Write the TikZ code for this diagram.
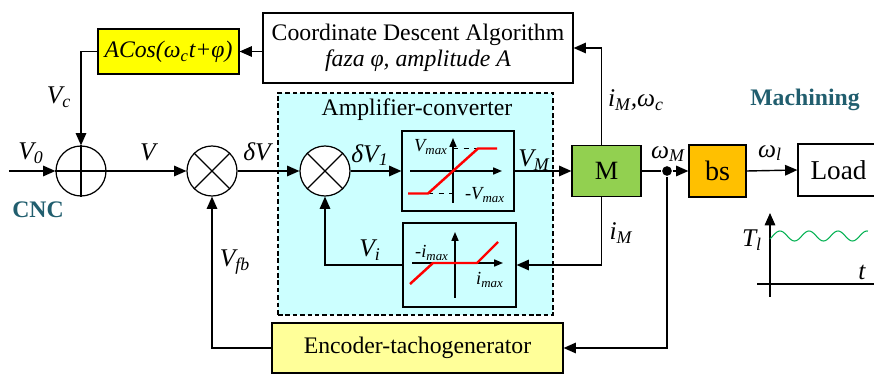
\documentclass[tikz,border=0pt]{standalone}
\usepackage{fontspec}
\setmainfont{Liberation Serif}
\usepackage{tikz}
\usetikzlibrary{arrows.meta,positioning,calc}
\definecolor{ampcyan}{HTML}{CCFFFF}
\definecolor{acosyellow}{HTML}{FFFF00}
\definecolor{encyellow}{HTML}{FFFF99}
\definecolor{mgreen}{HTML}{92D050}
\definecolor{bsorange}{HTML}{FFC000}
\definecolor{tealtext}{HTML}{215E6E}
\definecolor{wavegreen}{HTML}{00B050}
\tikzset{block/.style={draw=black,line width=0.7pt,inner sep=0pt,align=center,font=\fontsize{13.5}{14.5}\selectfont},
  sumnode/.style={draw,circle,fill=white,line width=0.7pt,minimum size=1cm,inner sep=0pt},
  sig/.style={font=\fontsize{14.5}{16}\selectfont\itshape,inner sep=0pt},
  small/.style={font=\fontsize{10.5}{12}\selectfont\itshape,inner sep=0pt},
  tealbold/.style={font=\fontsize{13.5}{15}\selectfont\bfseries,text=tealtext,inner sep=0pt},
  ax/.style={-{Triangle[length=5pt,width=4pt]},line width=0.7pt},
  curve/.style={red,line width=1.4pt}}

\begin{document}
\begin{tikzpicture}[>={Triangle[length=7pt,width=6pt]}, line width=0.8pt]
\useasboundingbox (0,0) rectangle (17.48,-7.48);

\node[draw,dashed,dash pattern=on 2.6pt off 1.6pt,line width=0.6pt,fill=ampcyan,minimum width=5.5cm,minimum height=4.44cm] (amp) at (8.31,-4.08) {};
\node[font=\fontsize{13.5}{15}\selectfont,inner sep=0pt] (amptitle) at (8.34,-2.2) {Amplifier-converter};

\node[block,minimum width=6.2cm,minimum height=1.4cm] (cd) at (8.36,-0.96) {Coordinate Descent Algorithm\\ \textit{faza φ, amplitude A}};
\node[block,fill=acosyellow,minimum width=2.82cm,minimum height=0.9cm] (acos) at (3.37,-1.03) {\itshape ACos(ω\textsubscript{c}t+φ)};

\node[sumnode] (s1) at (1.62,-3.42) {};
\node[sumnode] (s2) at (4.24,-3.42) {};
\node[sumnode] (s3) at (6.50,-3.42) {};
\draw[line width=0.7pt] (s1.north) -- (s1.south) (s1.west) -- (s1.east);
\draw[line width=0.7pt] (s2.north west) -- (s2.south east) (s2.north east) -- (s2.south west);
\draw[line width=0.7pt] (s3.north west) -- (s3.south east) (s3.north east) -- (s3.south west);
\coordinate (in) at (0.18,-3.42);

\node[block,minimum width=2.24cm,minimum height=1.6cm] (sat) at (9.16,-3.42) {};
\node[block,minimum width=2.26cm,minimum height=1.68cm] (dz) at (9.19,-5.3) {};
\node[block,fill=mgreen,minimum width=1.38cm,minimum height=1.02cm,font=\fontsize{15}{17}\selectfont] (m) at (12.13,-3.42) {M};
\node[circle,fill,inner sep=0pt,minimum size=5.5pt] (jn) at (13.34,-3.42) {};
\node[block,fill=bsorange,minimum width=1.14cm,minimum height=1.04cm,font=\fontsize{16}{18}\selectfont] (bs) at (14.35,-3.42) {bs};
\node[block,minimum width=1.62cm,minimum height=1.04cm,font=\fontsize{15.5}{17}\selectfont] (load) at (16.77,-3.4) {Load};
\node[block,fill=encyellow,minimum width=5.82cm,minimum height=1cm] (enc) at (8.35,-6.96) {Encoder-tachogenerator};

\begin{scope}[shift={(9.06,-3.42)}]
  \draw[ax] (-0.86,0) -- (0.98,0);
  \draw[ax] (0,-0.64) -- (0,0.66);
  \draw[dashed,line width=0.6pt] (-0.5,-0.45) -- (0,-0.45) (0,0.45) -- (0.5,0.45);
  \draw[curve] (-0.9,-0.45) -- (-0.5,-0.45) -- (0.5,0.45) -- (0.88,0.45);
  \node[small] (vmax) at (-0.44,0.48) {V\textsubscript{max}};
  \node[small] (mvmax) at (0.64,-0.48) {-V\textsubscript{max}};
\end{scope}

\begin{scope}[shift={(9.1,-5.26)}]
  \draw[ax] (-0.86,0) -- (0.96,0);
  \draw[ax] (0,-0.7) -- (0,0.62);
  \draw[curve] (-0.9,-0.42) -- (-0.44,0) -- (0.44,0) -- (0.86,0.42);
  \node[small] (mimax) at (-0.46,0.2) {-i\textsubscript{max}};
  \node[small] (imax) at (0.7,-0.34) {i\textsubscript{max}};
\end{scope}

\draw[->] (in) -- (s1.west);
\draw[->] (s1.east) -- (s2.west);
\draw[->] (s2.east) -- (s3.west);
\draw[->] (s3.east) -- (sat.west);
\draw[->] (sat.east) -- (m.west);
\draw (m.east) -- (jn);
\draw[->] (jn) -- (bs.west);
\draw[->] (bs.east) -- (load.west);
\draw[->] ([xshift=-1mm]m.north) |- (cd.east);
\draw[->] (cd.west |- acos.east) -- (acos.east);
\draw[->] (acos.west) -| (s1.north);
\draw[->] ([xshift=-1mm]m.south) |- (dz.east);
\draw[->] (dz.west) -| (s3.south);
\draw[->] (jn) |- (enc.east);
\draw[->] (enc.west) -| (s2.south);

\node[sig] (lv0) at (0.62,-3.06) {V\textsubscript{0}};
\node[sig] (lv) at (2.96,-3.04) {V};
\node[sig] (ldv) at (5.14,-3.04) {δV};
\node[sig] (lvc) at (1.18,-1.94) {V\textsubscript{c}};
\node[sig] (ldv1) at (7.4,-3.1) {δV\textsubscript{1}};
\node[sig] (lvm) at (10.68,-3.2) {V\textsubscript{M}};
\node[sig] (lvfb) at (4.7,-5.24) {V\textsubscript{fb}};
\node[sig] (lvi) at (7.4,-5.0) {V\textsubscript{i}};
\node[sig] (limwc) at (12.72,-2.0) {i\textsubscript{M},ω\textsubscript{c}};
\node[sig] (lim) at (12.42,-4.66) {i\textsubscript{M}};
\node[sig] (lwm) at (13.36,-3.08) {ω\textsubscript{M}};
\node[sig] (lwl) at (15.4,-3.06) {ω\textsubscript{l}};

\node[tealbold] (cnc) at (0.76,-4.2) {CNC};
\node[tealbold] (mach) at (16.1,-2.0) {Machining};

\draw[->] (15.4,-5.94) -- (15.4,-4.26);
\draw (15.14,-5.68) -- (17.5,-5.68);
\draw[wavegreen,line width=0.6pt,domain=15.4:17.36,samples=100,smooth] plot (\x,{-4.72+0.1*cos(360*(\x-15.6)/0.58)});
\node[sig] (ltl) at (15.04,-4.8) {T\textsubscript{l}};
\node[sig] (lt) at (17.24,-5.44) {t};
\end{tikzpicture}
\end{document}
